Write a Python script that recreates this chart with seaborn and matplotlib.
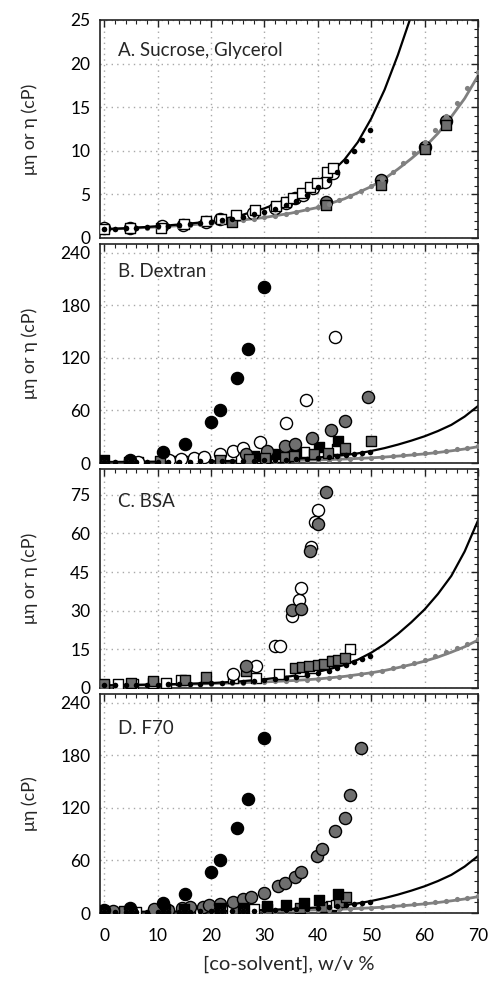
import matplotlib
matplotlib.use("Agg")
import matplotlib.pyplot as plt
import seaborn as sns
from matplotlib.ticker import MultipleLocator

# reference curves (fits), shared by all panels
curve_suc_x = [0, 5, 10, 15, 20, 25, 30, 35, 40, 42.5, 45, 47.5, 50, 52.5, 55, 57.5, 60, 62.5, 65, 67.5, 70]
curve_suc_y = [1.0, 1.15, 1.35, 1.6, 1.9, 2.5, 3.4, 4.6, 6.3, 7.5, 9.0, 11.0, 13.7, 17.0, 21.0, 25.5, 30.5, 36.5, 43.5, 53.0, 65.0]
curve_gly_x = [0, 5, 10, 15, 20, 25, 30, 35, 40, 45, 50, 52.5, 55, 57.5, 60, 62.5, 65, 67.5, 70]
curve_gly_y = [1.0, 1.12, 1.27, 1.45, 1.7, 2.0, 2.35, 2.85, 3.5, 4.5, 5.9, 6.8, 7.9, 9.1, 10.4, 12.0, 13.9, 16.0, 18.6]

# literature points
lit_suc_x = [0, 2, 4, 6, 8, 10, 12, 14, 16, 18, 20, 22, 24, 26, 28, 30, 32, 34, 36, 38, 40, 42, 43.5, 45.2, 46.8, 48.3, 49.7]
lit_suc_y = [1.0, 1.05, 1.1, 1.17, 1.24, 1.32, 1.4, 1.5, 1.6, 1.72, 1.86, 2.02, 2.2, 2.42, 2.7, 3.0, 3.35, 3.8, 4.3, 4.95, 5.9, 6.7, 7.6, 8.8, 10.0, 11.2, 12.4]
lit_gly_x = [0, 2, 4, 6, 8, 10, 12, 14, 16, 18, 20, 22, 24, 26, 28, 30, 32, 34, 36, 38, 40, 42, 44, 46, 48, 50,
             52, 54, 56, 58, 60, 62, 64, 66, 68, 70]
lit_gly_y = [1.0, 1.05, 1.09, 1.14, 1.2, 1.27, 1.34, 1.41, 1.49, 1.58, 1.68, 1.8, 1.92, 2.05, 2.2, 2.36, 2.55, 2.76,
             3.0, 3.27, 3.57, 3.92, 4.32, 4.8, 5.35, 6.0, 6.75, 7.6, 8.6, 9.75, 11.0, 12.4, 14.0, 15.5, 17.2, 19.0]

# A. sucrose, glycerol
a_circ_x = [0, 4.9, 10.8, 14.7, 19.1, 21.6, 27.9, 31.9, 34.1, 35.7, 37.2, 39.1, 41.3, 42.8]
a_circ_y = [1.1, 1.17, 1.33, 1.48, 1.86, 2.16, 2.92, 3.49, 4.05, 4.6, 4.98, 5.7, 6.4, 7.5]
a_sq_x = [0, 4.9, 10.7, 14.9, 19.1, 21.9, 24.7, 28.2, 32.2, 34.1, 35.4, 37.0, 38.6, 39.9, 41.8, 42.8]
a_sq_y = [1.0, 1.1, 1.2, 1.6, 1.9, 2.2, 2.6, 3.2, 3.7, 4.1, 4.6, 5.2, 5.8, 6.3, 7.6, 8.0]
a_gcirc_x = [41.6, 51.9, 60.0, 64.1]
a_gcirc_y = [4.1, 6.6, 10.4, 13.4]
a_gsq_x = [24.0, 41.6, 51.9, 60.0, 64.1]
a_gsq_y = [1.8, 3.8, 6.1, 10.2, 13.0]

# B. dextran
b_bcirc_x = [4.9, 11.0, 15.1, 19.9, 21.6, 24.9, 27.0, 29.9]
b_bcirc_y = [3.8, 12.2, 21.8, 46.6, 60.8, 97.5, 130.3, 201.0]
b_ocirc_x = [6.4, 12.2, 14.3, 16.8, 18.6, 21.6, 24.1, 26.0, 29.1, 34.1, 37.7, 43.2]
b_ocirc_y = [1.0, 2.9, 4.0, 5.4, 6.5, 10.3, 14.1, 17.2, 23.6, 45.4, 72.3, 144.0]
b_gcirc_x = [26.6, 30.4, 33.8, 35.8, 39.0, 42.4, 45.0, 49.4]
b_gcirc_y = [10.3, 14.1, 19.0, 21.8, 28.2, 38.2, 47.4, 75.7]
b_bsq_x = [0, 4.6, 28.0, 32.0, 36.0, 40.3, 43.8]
b_bsq_y = [3.8, 1.5, 8.0, 10.0, 12.0, 17.9, 25.6]
b_gsq_x = [10.5, 21.6, 27.1, 30.1, 33.9, 35.5, 39.2, 41.9, 45.0, 50.0]
b_gsq_y = [2.2, 3.4, 4.4, 5.2, 6.8, 8.0, 10.3, 11.5, 17.2, 25.6]
b_osq_x = [6.4, 13.0, 15.1, 18.6, 25.6, 29.5, 32.2, 37.5, 43.5]
b_osq_y = [1.5, 2.3, 2.3, 3.3, 5.2, 6.0, 6.8, 12.0, 16.0]

# C. BSA
c_gcirc_x = [26.6, 35.2, 36.8, 38.6, 40.0, 41.5]
c_gcirc_y = [8.5, 30.1, 30.7, 53.3, 63.6, 76.0]
c_ocirc_x = [24.1, 28.4, 32.0, 32.9, 35.2, 36.5, 36.8, 38.8, 39.4, 40.0]
c_ocirc_y = [5.3, 8.5, 16.3, 16.3, 27.9, 34.3, 38.8, 54.9, 64.6, 69.1]
c_osq_x = [0, 2.6, 5.4, 9.1, 11.6, 14.4, 24.1, 28.5, 32.8, 36.6, 39.1, 42.8, 46.1]
c_osq_y = [0.8, 1.5, 1.5, 2.1, 2.1, 3.0, 4.0, 4.0, 5.3, 6.6, 7.9, 10.5, 15.3]
c_gsq_x = [0, 5.0, 9.1, 15.1, 19.0, 26.6, 35.8, 37.0, 38.4, 40.0, 41.2, 42.6, 43.8, 45.0]
c_gsq_y = [1.6, 1.8, 2.9, 3.0, 4.4, 6.5, 7.8, 8.2, 8.5, 8.9, 9.5, 10.4, 11.0, 11.8]

# D. F70
d_bcirc_x = [0, 4.9, 11.0, 15.1, 19.9, 21.6, 24.9, 27.0, 29.9]
d_bcirc_y = [3.0, 6.0, 11.6, 21.9, 46.6, 60.4, 97.3, 129.7, 200.2]
d_gcirc_x = [0, 1.6, 5.0, 9.4, 12.0, 14.5, 16.0, 18.5, 19.7, 21.6, 24.1, 26.0, 27.5, 29.9, 32.5, 33.8, 35.8, 36.9,
             39.8, 40.8, 43.3, 45.0, 46.1, 48.0]
d_gcirc_y = [2.0, 2.0, 2.3, 4.0, 3.0, 5.7, 6.3, 7.0, 8.6, 10.5, 13.1, 16.2, 18.5, 23.1, 30.6, 34.5, 40.6, 46.6,
             64.6, 73.3, 93.1, 108.8, 135.0, 188.8]
d_bsq_x = [0, 11.4, 15.0, 21.6, 26.0, 30.5, 34.1, 37.5, 40.2, 43.8]
d_bsq_y = [2.0, 4.6, 5.0, 5.5, 6.0, 7.7, 9.0, 11.0, 15.4, 21.9]
d_gsq_x = [3.7, 10.7, 15.0, 24.9, 30.4, 36.7, 40.8, 44.0, 45.2]
d_gsq_y = [2.0, 3.0, 3.0, 5.0, 5.0, 6.0, 7.2, 12.0, 18.0]
d_osq_x = [0, 6, 12, 18, 24, 28, 42.5, 43.4]
d_osq_y = [1.0, 1.5, 2.0, 2.5, 3.5, 4.0, 8.0, 8.7]

GRAY_FILL = "#6f6f6f"
GRAY_LINE = "#808080"

sns.set_style("white")
plt.rcParams["font.family"] = ["Lato", "DejaVu Sans"]
plt.rcParams["font.size"] = 12

fig = plt.figure(figsize=(4.89, 9.82), dpi=100)
left, width = 100 / 489, 378 / 489
rects = [(238, 218), (463, 219), (688, 219), (913, 219)]
axes = [fig.add_axes([left, 1 - b / 982, width, h / 982]) for b, h in rects]


def base_panel(ax, ymax, major, minor, title, ylabel, ty):
    ax.set_xlim(-0.8, 70)
    ax.set_ylim(0, ymax)
    ax.xaxis.set_major_locator(MultipleLocator(10))
    ax.xaxis.set_minor_locator(MultipleLocator(2))
    ax.yaxis.set_major_locator(MultipleLocator(major))
    ax.yaxis.set_minor_locator(MultipleLocator(minor))
    ax.grid(True, which="major", color="#a8a8a8", linestyle=(0, (1, 3)), linewidth=1.0)
    ax.set_axisbelow(True)
    ax.tick_params(which="both", direction="in", top=True, right=True, colors="#222222",
                   labelcolor="black", labelsize=12.5)
    ax.tick_params(which="major", length=5, width=1.0)
    ax.tick_params(which="minor", length=3, width=0.8)
    ax.tick_params(axis="x", pad=11)
    ax.tick_params(axis="y", pad=7)
    for sp in ax.spines.values():
        sp.set_color("#222222")
        sp.set_linewidth(1.2)
    ax.set_ylabel(ylabel, fontsize=13)
    ax.yaxis.set_label_coords(-0.165, 0.5)
    ax.text(0.048, ty, title, transform=ax.transAxes, fontsize=13.5, va="center", ha="left")

    # shared reference curves and literature points
    sns.lineplot(x=curve_gly_x, y=curve_gly_y, ax=ax, color=GRAY_LINE, lw=2.0, estimator=None, sort=False, zorder=2)
    sns.lineplot(x=curve_suc_x, y=curve_suc_y, ax=ax, color="black", lw=1.6, estimator=None, sort=False, zorder=2)
    sns.scatterplot(x=lit_gly_x, y=lit_gly_y, ax=ax, color=GRAY_LINE, s=14, linewidth=0, zorder=5)
    sns.scatterplot(x=lit_suc_x, y=lit_suc_y, ax=ax, color="black", s=16, linewidth=0, zorder=5)


def pts(ax, x, y, marker, face, z=3):
    s = 76 if marker == "o" else 58
    sns.scatterplot(x=x, y=y, ax=ax, marker=marker, s=s, color=face, edgecolor="black",
                    linewidth=1.0, zorder=z, legend=False)


axA, axB, axC, axD = axes
base_panel(axA, 25, 5, 1, "A. Sucrose, Glycerol", "μη or η (cP)", 0.862)
base_panel(axB, 250, 60, 12, "B. Dextran", "μη or η (cP)", 0.873)
base_panel(axC, 85, 15, 3, "C. BSA", "μη or η (cP)", 0.85)
base_panel(axD, 250, 60, 12, "D. F70", "μη (cP)", 0.843)

pts(axA, a_gcirc_x, a_gcirc_y, "o", GRAY_FILL)
pts(axA, a_gsq_x, a_gsq_y, "s", GRAY_FILL)
pts(axA, a_circ_x, a_circ_y, "o", "white")
pts(axA, a_sq_x, a_sq_y, "s", "white")

pts(axB, b_osq_x, b_osq_y, "s", "white")
pts(axB, b_bsq_x, b_bsq_y, "s", "black")
pts(axB, b_ocirc_x, b_ocirc_y, "o", "white")
pts(axB, b_gcirc_x, b_gcirc_y, "o", GRAY_FILL)
pts(axB, b_gsq_x, b_gsq_y, "s", GRAY_FILL, z=4)
pts(axB, b_bcirc_x, b_bcirc_y, "o", "black", z=4)

pts(axC, c_osq_x, c_osq_y, "s", "white")
pts(axC, c_gsq_x, c_gsq_y, "s", GRAY_FILL)
pts(axC, c_ocirc_x, c_ocirc_y, "o", "white")
pts(axC, c_gcirc_x, c_gcirc_y, "o", GRAY_FILL, z=4)

pts(axD, d_osq_x, d_osq_y, "s", "white")
pts(axD, d_gsq_x, d_gsq_y, "s", GRAY_FILL)
pts(axD, d_gcirc_x, d_gcirc_y, "o", GRAY_FILL)
pts(axD, d_bsq_x, d_bsq_y, "s", "black")
pts(axD, d_bcirc_x, d_bcirc_y, "o", "black", z=4)

for ax in (axA, axB, axC):
    ax.tick_params(axis="x", labelbottom=False)
axD.set_xlabel("[co-solvent], w/v %", fontsize=14.5, labelpad=8)

fig.savefig("out.png", dpi=100)
